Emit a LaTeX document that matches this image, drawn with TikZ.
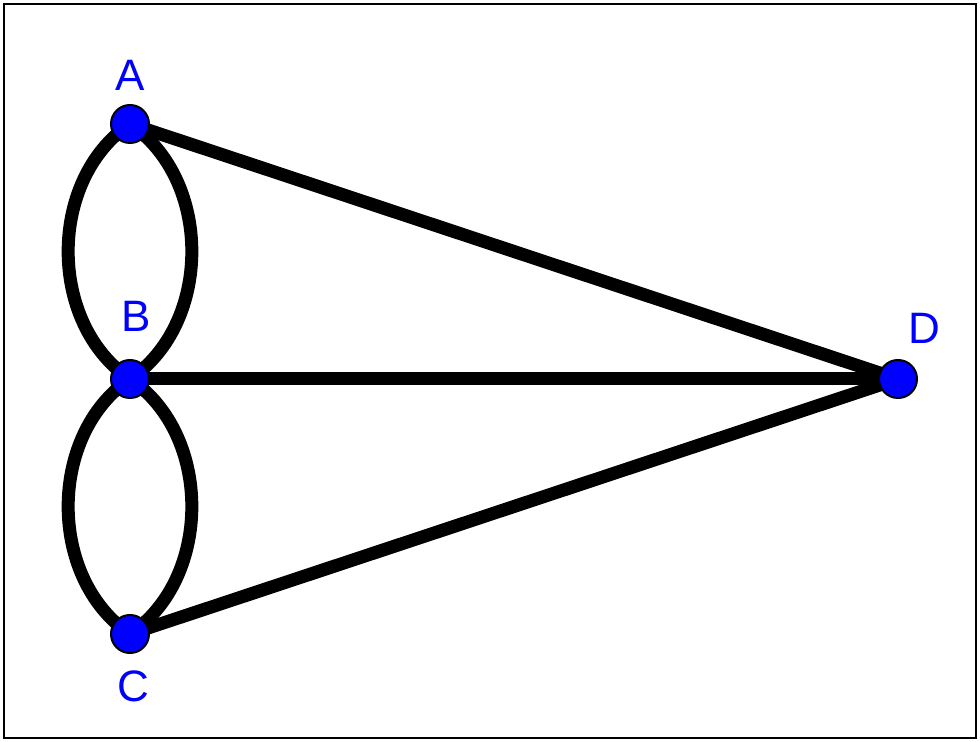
\documentclass[tikz,border=0pt]{standalone}
\usepackage{fontspec}
\setmainfont{Liberation Sans}
\usetikzlibrary{backgrounds}
\tikzset{
  vertex/.style={circle, fill=blue, draw=black, line width=1pt, minimum size=19pt, inner sep=0pt},
  vlabel/.style={text=blue, font=\fontsize{22}{26}\selectfont},
  bridge/.style={line width=6.5pt, black}
}
\begin{document}
\begin{tikzpicture}[x=0.5pt, y=-0.5pt]
  \useasboundingbox (0,0) rectangle (980,742);
  \draw[line width=1.3pt] (4,4) rectangle (976,738);
  \node[vertex] (A) at (130,124) {};
  \node[vertex] (B) at (130,379) {};
  \node[vertex] (C) at (130,634) {};
  \node[vertex] (D) at (898,379) {};
  \node[vlabel] (lA) at (130,75) {A};
  \node[vlabel] (lB) at (136,316) {B};
  \node[vlabel] (lC) at (133,686) {C};
  \node[vlabel] (lD) at (924,328) {D};
  \begin{pgfonlayer}{background}
    \draw[bridge] (A.center) to[bend right=56] (B.center);
    \draw[bridge] (A.center) to[bend left=56] (B.center);
    \draw[bridge] (B.center) to[bend right=56] (C.center);
    \draw[bridge] (B.center) to[bend left=56] (C.center);
    \draw[bridge] (A.center) -- (D.center);
    \draw[bridge] (B.center) -- (D.center);
    \draw[bridge] (C.center) -- (D.center);
  \end{pgfonlayer}
\end{tikzpicture}
\end{document}
